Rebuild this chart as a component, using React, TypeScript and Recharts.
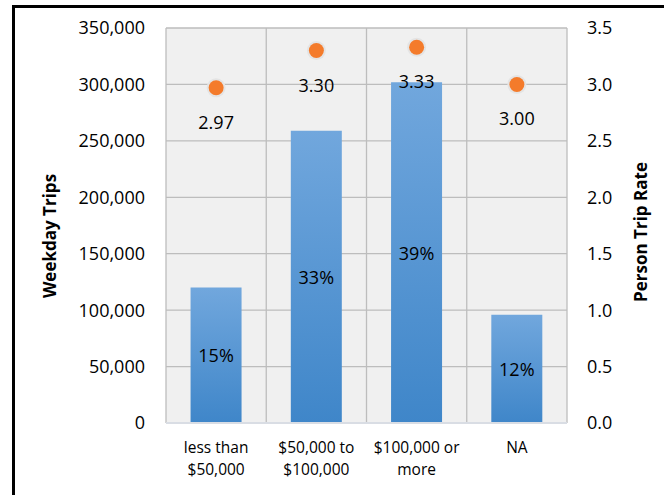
import React from "react";
import {
  ComposedChart,
  Bar,
  Line,
  XAxis,
  YAxis,
  CartesianGrid,
  LabelList,
} from "recharts";

const categories = ["less than\n$50,000", "$50,000 to\n$100,000", "$100,000 or\nmore", "NA"];
const weekdayTrips = [120000, 259000, 302000, 96000];
const tripShare = ["15%", "33%", "39%", "12%"];
const tripRate = [2.97, 3.3, 3.33, 3.0];
const leftTicks = [0, 50000, 100000, 150000, 200000, 250000, 300000, 350000];
const rightTicks = [0, 0.5, 1.0, 1.5, 2.0, 2.5, 3.0, 3.5];

const data = categories.map((c, i) => ({
  category: c,
  trips: weekdayTrips[i],
  share: tripShare[i],
  rate: tripRate[i],
}));

const FONT = "'Open Sans', 'Liberation Sans', sans-serif";

const XTick = (props: any) => {
  const { x, y, payload } = props;
  const lines = String(payload.value).split("\n");
  return (
    <g>
      {lines.map((ln: string, i: number) => (
        <text
          key={i}
          x={x}
          y={y + 16 + i * 22}
          textAnchor="middle"
          dominantBaseline="central"
          fontFamily={FONT}
          fontSize={15.5}
          fill="#000"
        >
          {ln}
        </text>
      ))}
    </g>
  );
};

const RateDot = (props: any) => {
  const { cx, cy } = props;
  if (cx == null || cy == null) return null;
  return (
    <g>
      <circle cx={cx} cy={cy} r={9.5} fill="#e4e4e4" />
      <circle cx={cx} cy={cy} r={7.5} fill="#F47B2B" />
    </g>
  );
};

const RateLabel = (props: any) => {
  const { x, y, value } = props;
  return (
    <text
      x={x}
      y={y + 34}
      textAnchor="middle"
      dominantBaseline="central"
      fontFamily={FONT}
      fontSize={18}
      fill="#000"
    >
      {Number(value).toFixed(2)}
    </text>
  );
};

const ShareLabel = (props: any) => {
  const { x, y, width, height, value } = props;
  return (
    <text
      x={x + width / 2}
      y={y + height / 2}
      textAnchor="middle"
      dominantBaseline="central"
      fontFamily={FONT}
      fontSize={18}
      fill="#000"
    >
      {value}
    </text>
  );
};

const AxisTitle = (props: any) => {
  const { viewBox, value, dx, cy } = props;
  const vb = viewBox || {};
  const x = vb.x + dx;
  const y = cy;
  return (
    <text
      x={x}
      y={y}
      transform={`rotate(-90 ${x} ${y})`}
      textAnchor="middle"
      dominantBaseline="central"
      fontFamily={FONT}
      fontWeight="bold"
      fontSize={17}
      fill="#000"
    >
      {value}
    </text>
  );
};

export default function App() {
  return (
    <div style={{ position: "absolute", left: 0, top: 0, width: 664, height: 495, overflow: "hidden", background: "#fff" }}>
      <div style={{ position: "absolute", left: 0, top: 0 }}>
        <ComposedChart
          width={664}
          height={495}
          data={data}
          margin={{ top: 28, right: 20, bottom: 12, left: 20 }}
          barCategoryGap="24.5%"
        >
          <defs>
            <linearGradient id="barGrad" x1="0" y1="0" x2="0" y2="1">
              <stop offset="0%" stopColor="#71a7dd" />
              <stop offset="100%" stopColor="#3f86c9" />
            </linearGradient>
          </defs>
          <CartesianGrid
            stroke="#bdbdbd"
            strokeWidth={1.3}
            fill="#f0f0f0"
            fillOpacity={1}
            yAxisId="left"
            verticalCoordinatesGenerator={({ offset }: any) =>
              categories.map((_, i) => offset.left + (i * offset.width) / categories.length).concat([offset.left + offset.width])
            }
          />
          <XAxis
            dataKey="category"
            tick={<XTick />}
            tickLine={false}
            axisLine={{ stroke: "#d9dde4", strokeWidth: 2 }}
            height={60}
            interval={0}
          />
          <YAxis
            yAxisId="left"
            orientation="left"
            width={146}
            domain={[0, 350000]}
            ticks={leftTicks}
            tickFormatter={(v: number) => v.toLocaleString("en-US")}
            tick={{ fontFamily: FONT, fontSize: 18, fill: "#000" }}
            tickLine={false}
            axisLine={false}
            tickMargin={15}
            label={<AxisTitle value="Weekday Trips" dx={29} cy={236} />}
          />
          <YAxis
            yAxisId="right"
            orientation="right"
            width={77}
            domain={[0, 3.5]}
            ticks={rightTicks}
            tickFormatter={(v: number) => v.toFixed(1)}
            tick={{ fontFamily: FONT, fontSize: 18, fill: "#000", textAnchor: "start" }}
            tickLine={false}
            axisLine={false}
            tickMargin={14}
            label={<AxisTitle value="Person Trip Rate" dx={73} cy={232} />}
          />
          <Bar yAxisId="left" dataKey="trips" fill="url(#barGrad)" isAnimationActive={false}>
            <LabelList dataKey="share" content={<ShareLabel />} />
          </Bar>
          <Line
            yAxisId="right"
            dataKey="rate"
            stroke="none"
            dot={<RateDot />}
            activeDot={false}
            isAnimationActive={false}
          >
            <LabelList dataKey="rate" content={<RateLabel />} />
          </Line>
        </ComposedChart>
      </div>
      <div
        style={{
          position: "absolute",
          left: 12,
          top: 5,
          width: 720,
          height: 600,
          border: "3px solid #000",
          boxSizing: "border-box",
          pointerEvents: "none",
        }}
      />
    </div>
  );
}
